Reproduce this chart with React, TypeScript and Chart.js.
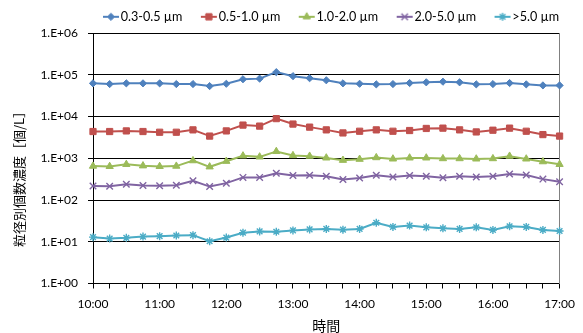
import React, { useEffect, useRef } from 'react';
import { Chart, registerables } from 'chart.js';

Chart.register(...registerables);

const times = [
  '10:00', '10:15', '10:30', '10:45', '11:00', '11:15', '11:30', '11:45',
  '12:00', '12:15', '12:30', '12:45', '13:00', '13:15', '13:30', '13:45',
  '14:00', '14:15', '14:30', '14:45', '15:00', '15:15', '15:30', '15:45',
  '16:00', '16:15', '16:30', '16:45', '17:00',
];

const conc03to05 = [62500, 60100, 62500, 62500, 62500, 60100, 60100, 53700, 61100, 78400, 81100, 116000, 93000, 83000, 74100, 62500, 61100, 59100, 60100, 63600, 66200, 68500, 66200, 59100, 60100, 63600, 59100, 55800, 55800];
const conc05to10 = [4380, 4380, 4530, 4380, 4210, 4210, 4800, 3410, 4530, 6250, 5910, 8930, 6620, 5580, 4800, 4050, 4450, 4800, 4450, 4630, 5190, 5280, 4800, 4280, 4710, 5280, 4450, 3700, 3410];
const conc10to20 = [650, 640, 716, 662, 640, 650, 878, 625, 849, 1146, 1082, 1462, 1165, 1126, 1023, 898, 951, 1040, 967, 1023, 1023, 984, 984, 967, 984, 1126, 967, 830, 716];
const conc20to50 = [218, 214, 238, 224, 219, 227, 288, 210, 254, 349, 349, 438, 386, 394, 370, 312, 336, 391, 355, 385, 370, 343, 370, 355, 370, 421, 398, 317, 274];
const concOver50 = [12.9, 11.9, 12.4, 13.3, 13.6, 14.1, 14.4, 10.3, 12.6, 16.5, 17.7, 17.4, 18.7, 19.8, 20.3, 19.5, 20.3, 28.5, 22.7, 24.4, 22.2, 21, 20.3, 22.2, 19.2, 23.5, 22.7, 19.2, 18.1];

const seriesLabels = ['0.3-0.5 µm', '0.5-1.0 µm', '1.0-2.0 µm', '2.0-5.0 µm', '>5.0 µm'];
const seriesValues = [conc03to05, conc05to10, conc10to20, conc20to50, concOver50];
const yTickValues = [1, 10, 100, 1000, 10000, 100000, 1000000];

const xTitle = '時間';
const yTitle = '粒径別個数濃度［個/L］';

const FONT = 'Lato, "Liberation Sans", sans-serif';
const CJK = '"Noto Sans CJK JP", sans-serif';

type Marker = 'rectRot' | 'rect' | 'triangle' | 'crossRot' | 'star';
const seriesStyles: { color: string; marker: Marker; radius: number; bw: number }[] = [
  { color: '#4F81BD', marker: 'rectRot', radius: 3.6, bw: 1 },
  { color: '#C0504D', marker: 'rect', radius: 4.4, bw: 1 },
  { color: '#9BBB59', marker: 'triangle', radius: 4.2, bw: 1 },
  { color: '#8064A2', marker: 'crossRot', radius: 4.6, bw: 1.4 },
  { color: '#4BACC6', marker: 'star', radius: 4, bw: 1.4 },
];

function drawMarker(g: CanvasRenderingContext2D, marker: Marker, x: number, y: number, r: number, color: string, bw: number) {
  g.fillStyle = color;
  g.strokeStyle = color;
  g.lineWidth = bw;
  g.beginPath();
  const d = r * Math.SQRT1_2;
  switch (marker) {
    case 'rectRot':
      g.moveTo(x, y - r); g.lineTo(x + r, y); g.lineTo(x, y + r); g.lineTo(x - r, y); g.closePath();
      g.fill(); g.stroke();
      break;
    case 'rect':
      g.rect(x - d, y - d, 2 * d, 2 * d);
      g.fill(); g.stroke();
      break;
    case 'triangle':
      g.moveTo(x, y - r); g.lineTo(x + r * 0.866, y + r * 0.5); g.lineTo(x - r * 0.866, y + r * 0.5); g.closePath();
      g.fill(); g.stroke();
      break;
    case 'crossRot':
      g.moveTo(x - d, y - d); g.lineTo(x + d, y + d); g.moveTo(x + d, y - d); g.lineTo(x - d, y + d);
      g.stroke();
      break;
    case 'star':
      g.moveTo(x - d, y - d); g.lineTo(x + d, y + d); g.moveTo(x + d, y - d); g.lineTo(x - d, y + d);
      g.moveTo(x, y - r); g.lineTo(x, y + r); g.moveTo(x - r, y); g.lineTo(x + r, y);
      g.stroke();
      break;
  }
}

function makeLegendImage(i: number): HTMLCanvasElement {
  const st = seriesStyles[i];
  const c = document.createElement('canvas');
  c.width = 40;
  c.height = 14;
  const g = c.getContext('2d')!;
  g.strokeStyle = st.color;
  g.lineWidth = 2;
  g.beginPath();
  g.moveTo(16, 7);
  g.lineTo(32, 7);
  g.stroke();
  drawMarker(g, st.marker, 24, 7, st.radius, st.color, st.bw);
  return c;
}

export default function App() {
  const ref = useRef<HTMLCanvasElement | null>(null);

  useEffect(() => {
    if (!ref.current) return;
    const legendImages = seriesLabels.map((_, i) => makeLegendImage(i));
    const chart = new Chart(ref.current, {
      type: 'line',
      data: {
        labels: times,
        datasets: seriesValues.map((vals, i) => ({
          label: seriesLabels[i],
          data: vals,
          borderColor: seriesStyles[i].color,
          backgroundColor: seriesStyles[i].color,
          borderWidth: 2,
          pointStyle: seriesStyles[i].marker,
          pointRadius: seriesStyles[i].radius,
          pointBorderWidth: seriesStyles[i].bw,
          pointBackgroundColor: seriesStyles[i].color,
          pointBorderColor: seriesStyles[i].color,
          tension: 0,
          fill: false,
        })),
      },
      options: {
        responsive: false,
        animation: false,
        events: [],
        layout: { padding: { top: -4.5, right: 9, left: 0, bottom: 0 } },
        plugins: {
          legend: {
            position: 'top',
            align: 'end',
            labels: {
              usePointStyle: true,
              pointStyleWidth: 15,
              padding: 15,
              color: '#000',
              font: { family: FONT, size: 12.6 },
              generateLabels: (ch: any) =>
                ch.data.datasets.map((ds: any, i: number) => ({
                  text: ds.label,
                  pointStyle: legendImages[i],
                  fillStyle: 'transparent',
                  strokeStyle: 'transparent',
                  lineWidth: 0,
                  hidden: false,
                  datasetIndex: i,
                  fontColor: '#000',
                })),
            },
          },
          tooltip: { enabled: false },
        },
        scales: {
          x: {
            type: 'category',
            grid: { display: true, drawOnChartArea: false, drawTicks: true, tickLength: 5, color: '#000', tickColor: '#000' },
            border: { display: true, color: '#000', width: 1 },
            ticks: {
              autoSkip: false,
              maxRotation: 0,
              minRotation: 0,
              padding: 8,
              color: '#000',
              font: { family: FONT, size: 12 },
              callback: (_v: any, i: number) => (times[i].endsWith(':00') ? times[i] : ''),
            },
            title: { display: true, text: xTitle, color: '#000', font: { family: CJK, size: 14, lineHeight: 1 }, padding: { top: 0, bottom: 0 } },
            afterFit: (s: any) => { s.height = 49.5; },
          },
          y: {
            type: 'logarithmic',
            min: 1,
            max: 1000000,
            afterBuildTicks: (s: any) => { s.ticks = yTickValues.map((v) => ({ value: v })); },
            grid: { color: '#000', tickLength: 5, tickColor: '#000' },
            border: { color: '#000', width: 1 },
            ticks: {
              padding: 10,
              color: '#000',
              font: { family: FONT, size: 12 },
              callback: (v: any) => '1.E+' + String(Math.round(Math.log10(Number(v)))).padStart(2, '0'),
            },
            title: {
              display: true,
              text: yTitle + '\u3000\u3000\u3000 ',
              color: '#000',
              font: { family: CJK, size: 13, lineHeight: 1 },
              padding: { top: 13, bottom: 0 },
            },
            afterFit: (s: any) => { s.width = 93; },
          },
          y2: {
            position: 'right',
            display: true,
            grid: { display: false },
            border: { display: true, color: '#808080', width: 1 },
            ticks: { display: false },
            afterFit: (s: any) => { s.width = 14; },
          },
        },
      } as any,
    });
    return () => chart.destroy();
  }, []);

  return (
    <div style={{ position: 'fixed', left: 0, top: 0, width: 583, height: 333, background: '#fff' }}>
      <canvas ref={ref} width={583} height={333} style={{ display: 'block' }} />
    </div>
  );
}
